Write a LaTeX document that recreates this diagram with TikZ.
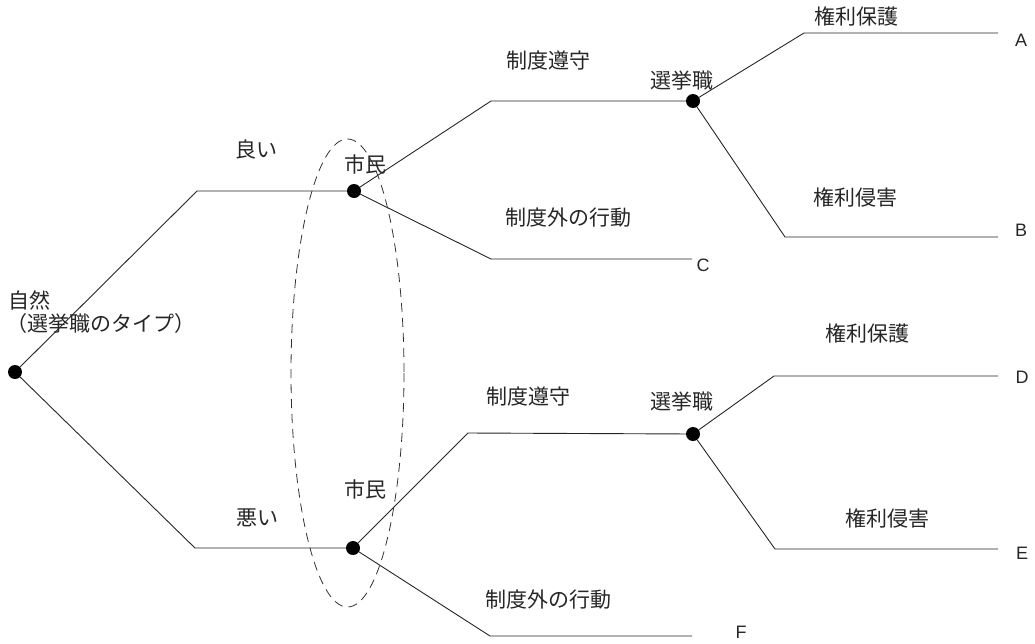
\documentclass[tikz,border=0pt]{standalone}
\usepackage{fontspec}
\setmainfont{Noto Sans CJK JP}
\newfontfamily\latinfont{Liberation Sans}
\begin{document}
\begin{tikzpicture}[x=1pt,y=-1pt,
  every node/.style={inner sep=0pt,outer sep=0pt},
  dot/.style={circle,fill=black,minimum size=14pt},
  branch/.style={line width=0.9pt,draw=black!85},
  lbl/.style={font=\fontsize{21}{24}\selectfont,text=black!85},
  term/.style={font=\latinfont\fontsize{18}{21}\selectfont,text=black!85},
  info/.style={draw=black!80,line width=0.8pt,dash pattern=on 9pt off 6pt}]
\useasboundingbox (0,0) rectangle (1035,643);
% decision nodes
\node[dot] (nat) at (15,372) {};
\node[dot] (cu) at (354,191) {};
\node[dot] (cl) at (353,548) {};
\node[dot] (su) at (693,101) {};
\node[dot] (sl) at (693,434) {};
% elbows and ends
\coordinate (k1) at (197,191);
\coordinate (k2) at (195,548);
\coordinate (k3) at (491,101);
\coordinate (k4) at (491,259);
\coordinate (e4) at (692,259);
\coordinate (k5) at (804,33);
\coordinate (e5) at (998,33);
\coordinate (k6) at (785,237);
\coordinate (e6) at (998,237);
\coordinate (k7) at (468,433);
\coordinate (k8) at (490,636);
\coordinate (e8) at (692,636);
\coordinate (k9) at (774,376);
\coordinate (e9) at (998,376);
\coordinate (k10) at (775,549);
\coordinate (e10) at (998,549);
% branches
\draw[branch] (nat) -- (k1) -- (cu);
\draw[branch] (nat) -- (k2) -- (cl);
\draw[branch] (cu) -- (k3) -- (su);
\draw[branch] (cu) -- (k4) -- (e4);
\draw[branch] (su) -- (k5) -- (e5);
\draw[branch] (su) -- (k6) -- (e6);
\draw[branch] (cl) -- (k7) -- (sl);
\draw[branch] (cl) -- (k8) -- (e8);
\draw[branch] (sl) -- (k9) -- (e9);
\draw[branch] (sl) -- (k10) -- (e10);
% information set
\draw[info] (347.5,373) ellipse [x radius=56.5, y radius=234];
% labels
\node[lbl,anchor=west] (tnat1) at (9,300) {自然};
\node[lbl,anchor=west] (tnat2) at (6,324) {（選挙職のタイプ）};
\node[lbl] (tgood) at (256,150) {良い};
\node[lbl] (tbad) at (257,518) {悪い};
\node[lbl] (tcu) at (365,164) {市民};
\node[lbl] (tcl) at (365,489) {市民};
\node[lbl] (tcomp1) at (548,61) {制度遵守};
\node[lbl] (tcomp2) at (528,397) {制度遵守};
\node[lbl] (tout1) at (568,218) {制度外の行動};
\node[lbl] (tout2) at (548,600) {制度外の行動};
\node[lbl] (tsu) at (682,81) {選挙職};
\node[lbl] (tsl) at (682,402) {選挙職};
\node[lbl] (tprot1) at (856,16) {権利保護};
\node[lbl] (tprot2) at (867,333) {権利保護};
\node[lbl] (tviol1) at (855,198) {権利侵害};
\node[lbl] (tviol2) at (887,518) {権利侵害};
\node[term] (tA) at (1021,40) {A};
\node[term] (tB) at (1021,230) {B};
\node[term] (tC) at (703,265) {C};
\node[term] (tD) at (1022,377) {D};
\node[term] (tE) at (1022,553) {E};
\node[term] (tF) at (741,632) {F};
\end{tikzpicture}
\end{document}
